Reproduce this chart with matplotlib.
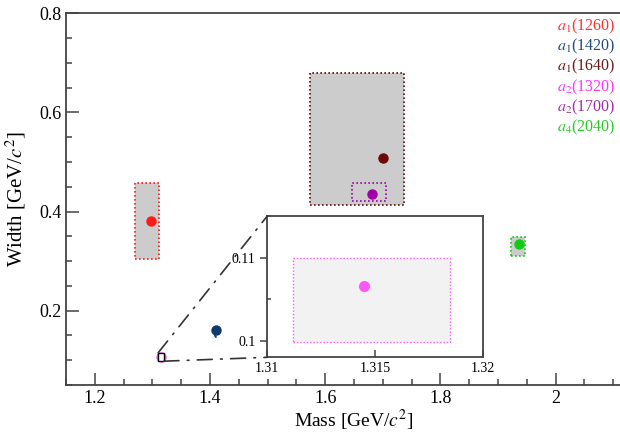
import matplotlib
matplotlib.use("Agg")
import matplotlib.pyplot as plt
from matplotlib.patches import Rectangle, ConnectionPatch
from matplotlib.ticker import MultipleLocator

plt.rcParams["font.family"] = ["Liberation Serif", "DejaVu Serif"]
plt.rcParams["mathtext.fontset"] = "stix"

# resonance labels, pole positions and uncertainty boxes (GeV/c^2)
labels = ["$a_1$(1260)", "$a_1$(1420)", "$a_1$(1640)", "$a_2$(1320)", "$a_2$(1700)", "$a_4$(2040)"]
colors = ["#ff1a1a", "#0f3a6b", "#6b0a0a", "#ff55ff", "#a000a8", "#11cc11"]
text_colors = ["#ff3030", "#1f4a7a", "#6b1a1a", "#ff33ff", "#9c2ea8", "#22cc22"]
mass = [1.298, 1.410, 1.700, 1.3145, 1.681, 1.936]
width = [0.381, 0.160, 0.507, 0.1066, 0.436, 0.334]
mass_lo = [1.269, 1.408, 1.574, 1.3112, 1.646, 1.922]
mass_hi = [1.312, 1.412, 1.736, 1.3185, 1.705, 1.947]
width_lo = [0.304, 0.146, 0.413, 0.0998, 0.421, 0.311]
width_hi = [0.457, 0.160, 0.680, 0.1100, 0.457, 0.349]

fig = plt.figure(figsize=(6.2, 4.33), dpi=100)
ax = fig.add_axes([0.1065, 0.1109, 0.929, 0.8584])
ax.set_xlim(1.15, 2.15)
ax.set_ylim(0.05, 0.8)


def style_axes(a, size, major_len, minor_len):
    for sp in a.spines.values():
        sp.set_color("#444444")
        sp.set_linewidth(1.3)
    a.tick_params(which="both", direction="in", color="#444444", width=1.1,
                  labelsize=size, top=False, right=False)
    a.tick_params(which="major", length=major_len)
    a.tick_params(which="minor", length=minor_len)


style_axes(ax, 13, 9, 4.5)
ax.xaxis.set_major_locator(MultipleLocator(0.2))
ax.xaxis.set_minor_locator(MultipleLocator(0.05))
ax.yaxis.set_major_locator(MultipleLocator(0.2))
ax.yaxis.set_minor_locator(MultipleLocator(0.05))
ax.xaxis.set_major_formatter(lambda v, p: f"{v:g}")
ax.yaxis.set_major_formatter(lambda v, p: f"{v:g}")
ax.set_xlabel("Mass [GeV/$c^2$]", fontsize=14, labelpad=1)
ax.set_ylabel("Width [GeV/$c^2$]", fontsize=15, labelpad=8)

dots = (0, (1, 1.4))
order = [0, 1, 2, 4, 5]
for i in order:
    ax.add_patch(Rectangle((mass_lo[i], width_lo[i]), mass_hi[i] - mass_lo[i],
                           width_hi[i] - width_lo[i], facecolor="#cccccc",
                           edgecolor=colors[i], linestyle=dots, linewidth=1.2, zorder=2))
for i in range(len(mass)):
    ax.plot(mass[i], width[i], "o", color=colors[i], markersize=6.5, zorder=4)

# zoom window around a2(1320)
x0, x1, y0, y1 = 1.31, 1.32, 0.098, 0.115
ax.add_patch(Rectangle((x0, y0), x1 - x0, y1 - y0, facecolor="white",
                       edgecolor="black", linewidth=1.0, zorder=5))

for i, (lab, c) in enumerate(zip(labels, text_colors)):
    fig.text(615 / 620, 1 - (26 + 20.3 * i) / 433, lab, color=c, fontsize=11.5,
             ha="right", va="center")

ins = fig.add_axes([0.4311, 0.1748, 0.3474, 0.3263])
ins.set_xlim(x0, x1)
ins.set_ylim(y0, y1)
style_axes(ins, 10, 5, 3)
ins.tick_params(axis="y", which="major", direction="out")
ins.xaxis.set_major_locator(MultipleLocator(0.005))
ins.yaxis.set_major_locator(MultipleLocator(0.01))
ins.yaxis.set_minor_locator(MultipleLocator(0.005))
ins.xaxis.set_major_formatter(lambda v, p: f"{v:g}")
ins.yaxis.set_major_formatter(lambda v, p: f"{v:g}")
k = 3
ins.add_patch(Rectangle((mass_lo[k], width_lo[k]), mass_hi[k] - mass_lo[k],
                        width_hi[k] - width_lo[k], facecolor="#f2f2f2",
                        edgecolor=colors[k], linestyle=dots, linewidth=1.0, zorder=2))
ins.plot(mass[k], width[k], "o", color=colors[k], markersize=7, zorder=4)

dashdot = (0, (9, 5, 1, 5))
for (xa, ya), (xb, yb) in [((x0, y1), (0, 1)), ((x1, y0), (0, 0))]:
    con = ConnectionPatch(xyA=(xa, ya), coordsA=ax.transData, xyB=(xb, yb),
                          coordsB=ins.transAxes, color="#333333", linewidth=1.2,
                          linestyle=dashdot, zorder=3)
    fig.add_artist(con)

fig.savefig("out.png", dpi=100)
